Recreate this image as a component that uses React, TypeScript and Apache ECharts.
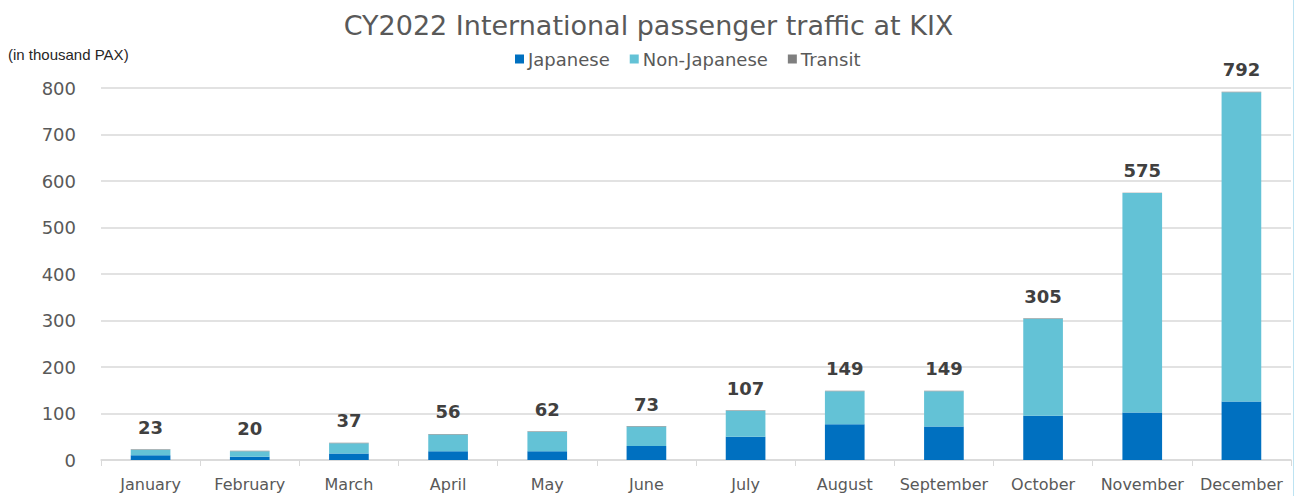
import React, { useEffect, useRef } from "react";
import * as echarts from "echarts";

const months = ["January", "February", "March", "April", "May", "June", "July", "August", "September", "October", "November", "December"];
const japanese = [10, 7, 14, 19, 19, 30, 50, 77, 72, 95, 102, 126];
const nonJapanese = [12, 12, 22, 36, 42, 42, 56, 71, 76, 209, 472, 665];
const transit = [1, 1, 1, 1, 1, 1, 1, 1, 1, 1, 1, 1];
const totals = [23, 20, 37, 56, 62, 73, 107, 149, 149, 305, 575, 792];
const yTicks = [0, 100, 200, 300, 400, 500, 600, 700, 800];

const FONT = "DejaVu Sans";

export default function App() {
  const ref = useRef<HTMLDivElement>(null);
  useEffect(() => {
    const chart = echarts.init(ref.current!, null, { renderer: "svg" });
    chart.setOption({
      animation: false,
      backgroundColor: "#ffffff",
      title: {
        text: "CY2022 International passenger traffic at KIX",
        left: "center",
        top: 7,
        textStyle: { fontFamily: FONT, fontSize: 27, fontWeight: "normal", color: "#595959" },
      },
      legend: {
        top: 45,
        left: 510,
        itemWidth: 9,
        itemHeight: 9,
        itemGap: 20,
        icon: "rect",
        textStyle: { fontFamily: FONT, fontSize: 18, color: "#595959", padding: [0, 0, 0, -1] },
        data: ["Japanese", "Non-Japanese", "Transit"],
      },
      graphic: [
        {
          type: "text",
          left: 8,
          top: 47,
          style: { text: "(in thousand PAX)", fontFamily: "Liberation Sans", fontSize: 15, fill: "#262626" },
        },
        {
          type: "line",
          shape: { x1: 1293.5, y1: 0, x2: 1293.5, y2: 496 },
          style: { stroke: "#bde3f2", lineWidth: 1 },
        },
      ],
      grid: { left: 101, right: 6, top: 88, bottom: 36, containLabel: false },
      xAxis: {
        type: "category",
        data: months,
        axisLine: { lineStyle: { color: "#d9d9d9", width: 1.5 } },
        axisTick: { show: true, length: 6, lineStyle: { color: "#d9d9d9" } },
        axisLabel: { fontFamily: FONT, fontSize: 16, color: "#595959", margin: 16, interval: 0 },
      },
      yAxis: {
        type: "value",
        min: 0,
        max: 800,
        interval: 100,
        axisLine: { show: false },
        axisTick: { show: false },
        splitLine: { lineStyle: { color: "#d9d9d9", width: 1.5 } },
        axisLabel: {
          fontFamily: FONT,
          fontSize: 18,
          color: "#595959",
          margin: 25,
          formatter: (v: number) => (yTicks.includes(v) ? String(v) : ""),
        },
      },
      series: [
        {
          name: "Japanese",
          type: "bar",
          stack: "total",
          barWidth: "40%",
          data: japanese,
          itemStyle: { color: "#0070c0" },
        },
        {
          name: "Non-Japanese",
          type: "bar",
          stack: "total",
          data: nonJapanese,
          itemStyle: { color: "#63c2d6" },
        },
        {
          name: "Transit",
          type: "bar",
          stack: "total",
          data: transit,
          itemStyle: { color: "#7f7f7f" },
          label: {
            show: true,
            position: "top",
            distance: 13,
            fontFamily: FONT,
            fontSize: 18,
            fontWeight: "bold",
            color: "#404040",
            formatter: (p: any) => String(totals[p.dataIndex]),
          },
        },
      ],
    });
    return () => chart.dispose();
  }, []);
  return <div ref={ref} style={{ position: "absolute", left: 0, top: 0, width: 1297, height: 496 }} />;
}
